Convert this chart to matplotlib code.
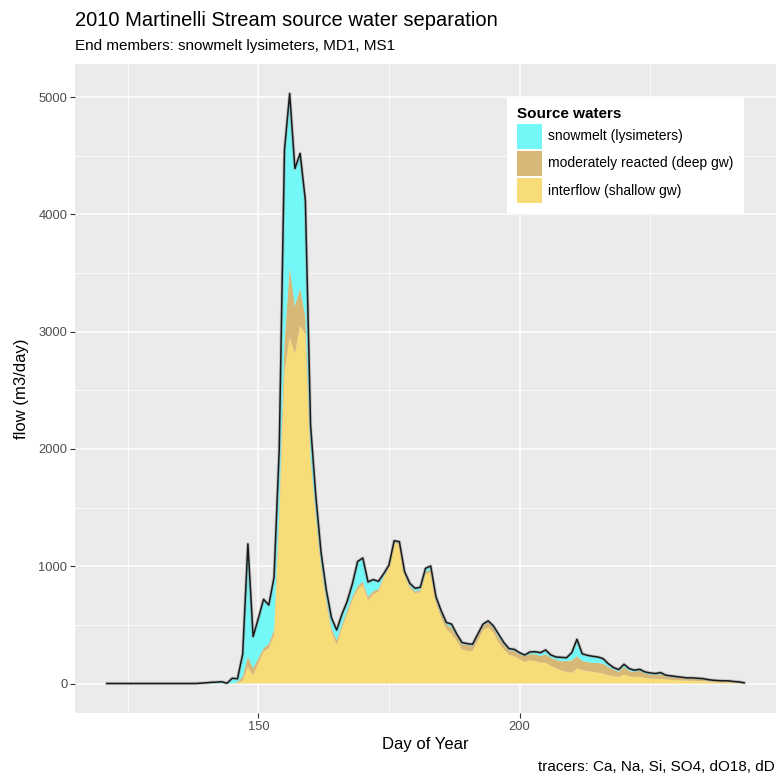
import matplotlib
matplotlib.use("Agg")
import matplotlib.pyplot as plt
from matplotlib.patches import Patch
import numpy as np

plt.rcParams['font.family'] = ['Liberation Sans', 'DejaVu Sans']

# ---------------- data ----------------
days = list(range(121, 244))

interflow = [0]*18 + [0, 0, 0, 0, 0, 0] + [
    0, 5, 25, 140, 70, 172, 271, 300, 413, 1400,          # 145-154
    2650, 2950, 2810, 3050, 2980, 1900, 1420, 1000, 690, 440,  # 155-164
    330, 470, 590, 710, 800, 840, 710, 760, 785, 895,     # 165-174
    985, 1195, 1190, 925, 815, 770, 780, 930, 950, 690,   # 175-184
    560, 463, 420, 363, 291, 277, 277, 363, 454, 477,     # 185-194
    434, 349, 291, 243, 234, 206, 183, 197, 191, 177,     # 195-204
    177, 149, 129, 111, 100, 91, 129, 113, 107, 99,       # 205-214
    93, 85, 71, 62, 56, 76, 62, 56, 56, 48,               # 215-224
    42, 40, 40, 34, 31, 28, 25, 23, 23, 20,               # 225-234
    20, 17, 14, 14, 11, 11, 8, 8, 3]                      # 235-243

deep_gw = [0]*18 + [0, 0, 0, 0, 0, 0] + [
    0, 5, 35, 90, 60, 43, 29, 37, 43, 80,
    250, 600, 410, 320, 150, 30, 20, 20, 30, 30,
    40, 30, 30, 30, 30, 30, 30, 25, 20, 15,
    10, 8, 8, 10, 15, 15, 15, 20, 20, 25,
    30, 43, 57, 43, 43, 52, 43, 43, 37, 43,
    43, 42, 43, 40, 43, 43, 51, 52, 58, 57,
    72, 71, 71, 80, 91, 106, 105, 79, 77, 76,
    82, 84, 70, 57, 43, 65, 45, 43, 51, 37,
    34, 31, 39, 28, 25, 23, 23, 19, 19, 20,
    17, 11, 11, 9, 9, 9, 6, 3, 2]

snowmelt = [0]*18 + [3, 6, 10, 12, 15, 2] + [
    45, 30, 190, 960, 270, 341, 418, 332, 449, 520,
    1650, 1480, 1170, 1150, 990, 270, 160, 100, 80, 90,
    86, 90, 80, 110, 210, 200, 126, 101, 66, 27,
    14, 14, 11, 18, 24, 27, 25, 32, 32, 25,
    30, 14, 29, 14, 15, 11, 14, 14, 15, 14,
    14, 29, 15, 14, 14, 14, 9, 20, 22, 29,
    37, 23, 26, 32, 29, 66, 143, 62, 56, 57,
    51, 43, 28, 17, 20, 23, 20, 14, 14, 14,
    14, 14, 14, 9, 9, 8, 6, 6, 6, 5,
    5, 6, 3, 2, 3, 3, 3, 3, 1]

labels = ["snowmelt (lysimeters)", "moderately reacted (deep gw)", "interflow (shallow gw)"]
colors = ["#73F7F7", "#D8B877", "#F7DC78"]

title = "2010 Martinelli Stream source water separation"
subtitle = "End members: snowmelt lysimeters, MD1, MS1"
caption = "tracers: Ca, Na, Si, SO4, dO18, dD"

# ---------------- figure ----------------
W = H = 778
fig = plt.figure(figsize=(W/100, H/100), dpi=100)
fig.patch.set_facecolor("white")
ax = fig.add_axes([75/W, 1-713/H, (776-75)/W, (713-64)/H])
ax.set_facecolor("#EBEBEB")

d = np.array(days)
y1 = np.array(interflow)
y2 = np.array(deep_gw)
y3 = np.array(snowmelt)
ax.stackplot(d, y1, y2, y3, colors=[colors[2], colors[1], colors[0]],
             linewidth=0, zorder=2)
ax.plot(d, y1 + y2 + y3, color="#9a9a9a", lw=2.4, alpha=0.5, zorder=3,
        solid_joinstyle="round")
ax.plot(d, y1 + y2 + y3, color="#1a1a1a", lw=1.1, zorder=4,
        solid_joinstyle="round")

xmin, xmax = d.min(), d.max()
ymax = (y1 + y2 + y3).max()
ax.set_xlim(xmin - 0.05*(xmax-xmin), xmax + 0.05*(xmax-xmin))
ax.set_ylim(-0.05*ymax, ymax*1.05)

ax.set_xticks([150, 200])
ax.set_xticks([125, 175, 225], minor=True)
ax.set_yticks([0, 1000, 2000, 3000, 4000, 5000])
ax.set_yticks([500, 1500, 2500, 3500, 4500], minor=True)
ax.grid(which="major", color="white", lw=1.1, zorder=0)
ax.grid(which="minor", color="white", lw=0.55, zorder=0)
ax.set_axisbelow(True)
for s in ax.spines.values():
    s.set_visible(False)
ax.tick_params(which="major", length=3.5, width=0.8, color="#333333",
               labelsize=9.3, labelcolor="#4D4D4D", pad=2)
ax.tick_params(which="minor", length=0)

ax.set_xlabel("Day of Year", fontsize=12, labelpad=3)
ax.set_ylabel("flow (m3/day)", fontsize=12, labelpad=7)

fig.text(75/W, 1-20/H, title, fontsize=14.5, ha="left", va="center")
fig.text(75/W, 1-46/H, subtitle, fontsize=11, ha="left", va="center")
fig.text(775/W, 1-767/H, caption, fontsize=11, ha="right", va="center")

handles = [Patch(facecolor=c, edgecolor="none") for c in colors]
leg = ax.legend(handles, labels, title="Source waters", loc="upper left",
                bbox_to_anchor=(507/W, 1-97/H), bbox_transform=fig.transFigure,
                borderaxespad=0, frameon=True, fancybox=False, fontsize=10,
                title_fontsize=11, handlelength=1.8, handleheight=2.4,
                handletextpad=0.4, labelspacing=0.15, borderpad=0.75,
                alignment="left")
leg.get_frame().set_facecolor("white")
leg.get_frame().set_edgecolor("none")
leg.get_frame().set_alpha(1)
leg.get_title().set_fontweight("bold")

fig.savefig("out.png", dpi=100)
